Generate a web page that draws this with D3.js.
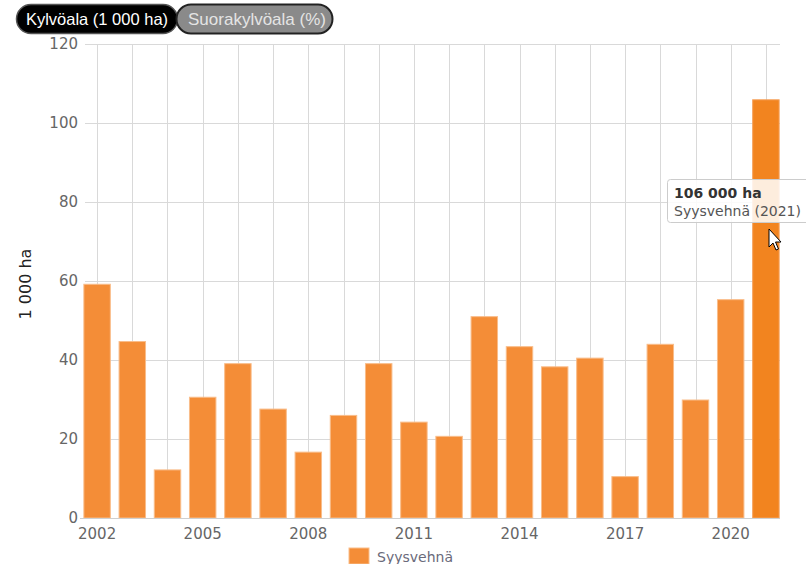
<!DOCTYPE html>
<html><head><meta charset="utf-8">
<script src="https://cdn.jsdelivr.net/npm/d3@7"></script>
<style>body{margin:0;background:#fff;}svg{display:block;}</style>
</head><body>
<svg id="chart" width="806" height="564"></svg>
<script>
const years = ["2002","2003","2004","2005","2006","2007","2008","2009","2010","2011","2012","2013","2014","2015","2016","2017","2018","2019","2020","2021"];
const syysvehna = [59.3,44.8,12.3,30.7,39.2,27.7,16.8,26.1,39.2,24.4,20.8,51.1,43.5,38.4,40.6,10.6,44.1,30.0,55.4,106.0];
const yTicks = [0,20,40,60,80,100,120];
const xTickLabels = ["2002","2005","2008","2011","2014","2017","2020"];
const buttons = ["Kylvöala (1 000 ha)","Suorakylvöala (%)"];
const seriesName = "Syysvehnä";
const yTitle = "1 000 ha";
const hovered = 19;

const svg = d3.select("#chart");
const x = d3.scaleBand().domain(years).range([79.5,783.5]).paddingInner(0.22).paddingOuter(0.11);
const y = d3.scaleLinear().domain([0,120]).range([518,44]);
const font = "'DejaVu Sans', Verdana, sans-serif";
const sans = "'Liberation Sans', Arial, sans-serif";

// horizontal grid
svg.append("g").selectAll("line").data(yTicks).join("line")
  .attr("x1",85).attr("x2",780).attr("y1",d=>y(d)+0.5).attr("y2",d=>y(d)+0.5)
  .attr("stroke","#d9d9d9").attr("stroke-width",1);
// vertical grid at category centers
svg.append("g").selectAll("line").data(years).join("line")
  .attr("x1",d=>Math.round(x(d)+x.bandwidth()/2)+0.5).attr("x2",d=>Math.round(x(d)+x.bandwidth()/2)+0.5)
  .attr("y1",44).attr("y2",518).attr("stroke","#d9d9d9").attr("stroke-width",1);

// y tick labels
svg.append("g").selectAll("text").data(yTicks).join("text")
  .attr("x",78).attr("y",d=>y(d)).attr("dy","0.36em").attr("text-anchor","end")
  .attr("font-family",font).attr("font-size",15).attr("fill","#666").text(d=>d);

// bars
svg.append("g").selectAll("rect").data(syysvehna).join("rect")
  .attr("x",(d,i)=>x(years[i])+0.5).attr("width",x.bandwidth()-1)
  .attr("y",d=>y(d)+0.5).attr("height",d=>y(0)-y(d)-0.5)
  .attr("fill",(d,i)=>i===hovered?"#f2841f":"#f48d37")
  .attr("stroke",(d,i)=>i===hovered?"#f5a25c":"#f9bd8a").attr("stroke-width",1);

// x axis line
svg.append("line").attr("x1",80).attr("x2",780).attr("y1",518.5).attr("y2",518.5)
  .attr("stroke","#cfcfcf").attr("stroke-width",1);

// x tick labels
svg.append("g").selectAll("text").data(xTickLabels).join("text")
  .attr("x",d=>x(d)+x.bandwidth()/2).attr("y",539).attr("text-anchor","middle")
  .attr("font-family",font).attr("font-size",15).attr("fill","#666").text(d=>d);

// y title
svg.append("text").attr("transform","translate(31,284) rotate(-90)").attr("text-anchor","middle")
  .attr("font-family",font).attr("font-size",16).attr("fill","#222").text(yTitle);

// legend
svg.append("rect").attr("x",349).attr("y",548).attr("width",20).attr("height",16).attr("fill","#f48d37")
  .attr("stroke","#f9bd8a");
svg.append("text").attr("x",377).attr("y",562).attr("font-family",font).attr("font-size",14)
  .attr("fill","#6a6a7a").text(seriesName);

// buttons
const b1 = svg.append("g");
b1.append("rect").attr("x",16.5).attr("y",4.5).attr("width",161).attr("height",29).attr("rx",14.5)
  .attr("fill","#000").attr("stroke","#555").attr("stroke-width",1.5);
b1.append("text").attr("x",97).attr("y",25).attr("text-anchor","middle").attr("font-family",sans)
  .attr("font-size",16.5).attr("fill","#fff").text(buttons[0]);
const b2 = svg.append("g");
b2.append("rect").attr("x",176.5).attr("y",4.5).attr("width",156).attr("height",29).attr("rx",14.5)
  .attr("fill","#8a8a8a").attr("stroke","#222").attr("stroke-width",2);
b2.append("text").attr("x",257).attr("y",25).attr("text-anchor","middle").attr("font-family",sans)
  .attr("font-size",17).attr("fill","#e4e4e4").text(buttons[1]);

// tooltip
const tt = svg.append("g");
tt.append("rect").attr("x",667.5).attr("y",179.5).attr("width",146).attr("height",43).attr("rx",3)
  .attr("fill","rgba(255,255,255,0.85)").attr("stroke","#cccccc");
tt.append("text").attr("x",674).attr("y",198).attr("font-family",font).attr("font-size",14).attr("font-weight","bold")
  .attr("fill","#333").text(d3.format(",")(syysvehna[hovered]*1000).replace(/,/g," ")+" ha");
tt.append("text").attr("x",674).attr("y",216).attr("font-family",font).attr("font-size",14)
  .attr("fill","#555").text(seriesName+" ("+years[hovered]+")");

// cursor
svg.append("path").attr("d","M769,229 L769,247 L773,243 L776,250 L778.5,249 L775.5,242 L781,242 Z")
  .attr("fill","#fff").attr("stroke","#000").attr("stroke-width",1).attr("stroke-linejoin","round");
</script>
</body></html>
